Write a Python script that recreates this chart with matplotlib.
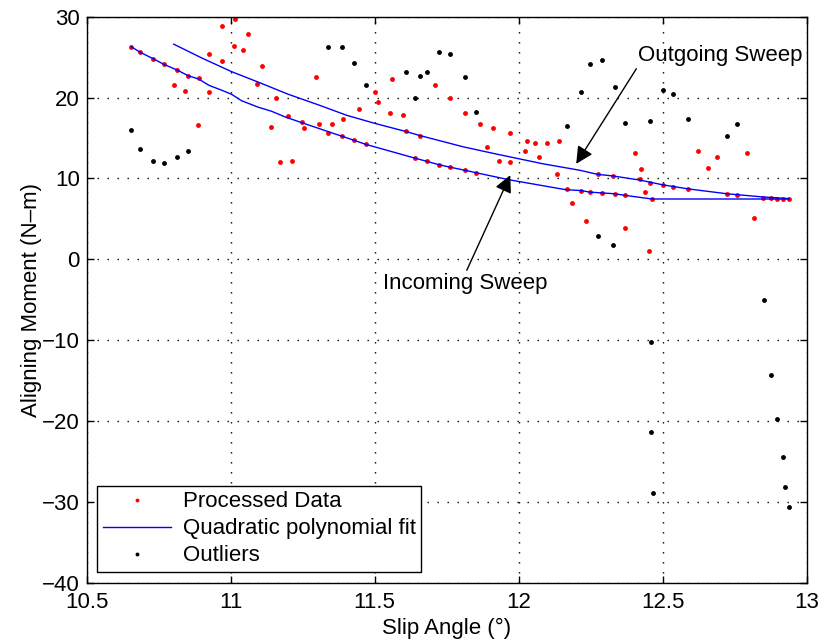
import matplotlib.pyplot as plt

plt.rcParams['font.family'] = ['Liberation Sans', 'DejaVu Sans']
plt.rcParams['font.size'] = 16

# processed points (slip angle in deg, aligning moment in N-m)
proc_x = [10.654, 10.685, 10.731, 10.768, 10.814, 10.852, 10.889, 10.802, 10.840, 10.925,
          10.925, 10.970, 11.014, 11.059, 11.011, 11.043, 10.971, 10.888, 11.109, 11.092,
          11.157, 11.140, 11.199, 11.246, 11.256, 11.306, 11.351, 11.337, 11.298, 11.172,
          11.214, 11.391, 11.445, 11.501, 11.510, 11.559, 11.554, 11.597, 11.711, 11.761,
          11.815, 11.866, 11.912, 11.971, 11.889, 11.932, 11.971, 12.022, 12.030, 12.058,
          12.072, 12.098, 12.139, 12.132, 12.168, 12.187, 11.388, 11.429, 11.470, 11.608,
          11.657, 11.640, 11.682, 11.722, 11.760, 11.814, 11.852, 12.405, 12.425, 12.624,
          12.656, 12.689, 12.793, 12.274, 12.327, 12.420, 12.457, 12.501, 12.537, 12.589,
          12.723, 12.760, 12.849, 12.878, 12.898, 12.919, 12.938, 12.215, 12.248, 12.290,
          12.333, 12.370, 12.439, 12.463, 12.233, 12.370, 12.452, 12.817]
proc_y = [26.3, 25.6, 24.8, 24.1, 23.4, 22.7, 22.4, 21.6, 20.8, 20.7,
          25.4, 28.8, 29.7, 27.9, 26.4, 25.9, 24.5, 16.6, 23.9, 21.7,
          19.9, 16.4, 17.7, 17.0, 16.2, 16.7, 16.7, 15.6, 22.5, 12.0,
          12.1, 17.3, 18.6, 20.7, 19.4, 22.3, 18.1, 17.8, 21.5, 19.9,
          18.1, 16.7, 16.2, 15.6, 13.9, 12.2, 12.0, 13.4, 14.6, 14.4,
          12.7, 14.4, 14.6, 10.5, 8.7, 7.0, 15.2, 14.7, 14.2, 15.8,
          15.3, 12.5, 12.1, 11.7, 11.4, 11.0, 10.7, 13.1, 11.2, 13.4,
          11.3, 12.7, 13.1, 10.5, 10.3, 9.9, 9.4, 9.2, 8.9, 8.7,
          8.1, 7.9, 7.6, 7.6, 7.5, 7.5, 7.5, 8.5, 8.3, 8.2,
          8.1, 7.9, 8.3, 7.4, 4.7, 3.9, 1.0, 5.1]

# rejected points
out_x = [10.654, 10.685, 10.731, 10.768, 10.814, 10.852, 11.337, 11.388, 11.429, 11.470,
         11.608, 11.657, 11.682, 11.722, 11.760, 11.640, 11.814, 11.852, 12.168, 12.215,
         12.248, 12.290, 12.333, 12.370, 12.457, 12.501, 12.537, 12.589, 12.723, 12.760,
         12.274, 12.327, 12.851, 12.459, 12.878, 12.899, 12.459, 12.917, 12.925, 12.466,
         12.939]
out_y = [16.0, 13.6, 12.2, 11.9, 12.7, 13.4, 26.2, 26.3, 24.3, 21.6,
         23.1, 22.7, 23.2, 25.6, 25.4, 19.9, 22.6, 18.2, 16.5, 20.7,
         24.1, 24.7, 21.3, 16.8, 17.1, 20.9, 20.4, 17.4, 15.3, 16.7,
         2.9, 1.8, -5.0, -10.2, -14.3, -19.8, -21.4, -24.5, -28.2, -28.9,
         -30.7]

# fitted curves, evaluated at the sample angles
in_fit_x = [10.654, 10.685, 10.731, 10.768, 10.814, 10.852, 10.888, 10.925, 10.969, 11.003,
            11.038, 11.096, 11.142, 11.189, 11.246, 11.304, 11.362, 11.388, 11.429, 11.470,
            11.640, 11.682, 11.722, 11.760, 11.814, 11.852, 11.971, 12.164, 12.215, 12.248,
            12.290, 12.333, 12.370, 12.463, 12.938]
in_fit_y = [26.3, 25.6, 24.8, 24.1, 23.4, 22.7, 22.3, 21.5, 20.9, 20.4,
            19.6, 18.8, 18.3, 17.6, 16.9, 16.2, 15.5, 15.2, 14.7, 14.2,
            12.5, 12.1, 11.7, 11.4, 11.0, 10.7, 9.8, 8.6, 8.5, 8.3,
            8.2, 8.1, 7.9, 7.45, 7.45]
out_fit_x = [10.802, 10.899, 11.003, 11.096, 11.200, 11.304, 11.403, 11.501, 11.608, 11.657,
             11.808, 11.924, 12.085, 12.213, 12.274, 12.327, 12.420, 12.501, 12.589, 12.723,
             12.849, 12.938]
out_fit_y = [26.6, 24.9, 23.2, 21.9, 20.4, 19.1, 17.8, 16.8, 15.8, 15.3,
             13.9, 13.0, 11.8, 11.0, 10.5, 10.3, 9.8, 9.2, 8.7, 8.1,
             7.7, 7.5]

fig = plt.figure(figsize=(8.19, 6.41), dpi=100)
ax = fig.add_axes([0.1059, 0.091, 0.8789, 0.883])

ax.plot(proc_x, proc_y, 'o', color='red', ms=3.5, mew=0, label='Processed Data')
ax.plot(in_fit_x, in_fit_y, color='blue', lw=1.0, label='Quadratic polynomial fit')
ax.plot(out_fit_x, out_fit_y, color='blue', lw=1.0)
ax.plot(out_x, out_y, 'o', color='black', ms=3.5, mew=0, label='Outliers')

ax.annotate('Outgoing Sweep', xy=(12.200, 11.8), xytext=(12.415, 25.2),
            va='center', ha='left', fontsize=16,
            arrowprops=dict(arrowstyle='-|>', color='black', lw=1.0,
                            mutation_scale=26, shrinkA=0, shrinkB=0,
                            relpos=(0.0, 0.0)))
ax.annotate('Incoming Sweep', xy=(11.971, 10.4), xytext=(11.530, -3.0),
            va='center', ha='left', fontsize=16,
            arrowprops=dict(arrowstyle='-|>', color='black', lw=1.0,
                            mutation_scale=26, shrinkA=0, shrinkB=0,
                            relpos=(0.5, 1.0)))

ax.set_xlim(10.5, 13)
ax.set_ylim(-40, 30)
ax.set_xticks([10.5, 11, 11.5, 12, 12.5, 13])
ax.set_xticklabels(['10.5', '11', '11.5', '12', '12.5', '13'])
ax.set_yticks(range(-40, 31, 10))

ax.grid(True, color='black', linestyle=(0, (1, 6.2)), linewidth=1.0)
ax.tick_params(direction='in', top=True, right=True, length=5, width=1.0, labelsize=16)
ax.tick_params(axis='x', pad=7)
ax.tick_params(axis='y', pad=5)
for s in ax.spines.values():
    s.set_linewidth(1.0)

ax.set_xlabel('Slip Angle (°)', fontsize=16, labelpad=3)
ax.set_ylabel('Aligning Moment (N–m)', fontsize=16, labelpad=0)

leg = ax.legend(loc='lower left', bbox_to_anchor=(0.0143, 0.019), borderaxespad=0,
                fancybox=False, edgecolor='black', framealpha=1, fontsize=16,
                handlelength=3.1, labelspacing=0.27, borderpad=0.25, handletextpad=0.5,
                markerscale=0.8)
leg.get_frame().set_linewidth(1.0)

fig.savefig('out.png', dpi=100)
